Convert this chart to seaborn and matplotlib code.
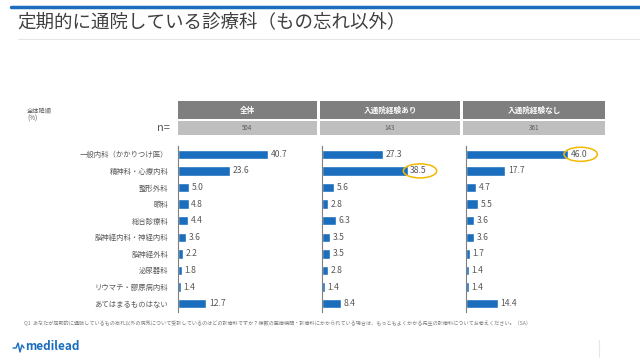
import pandas as pd
import seaborn as sns
import matplotlib.pyplot as plt
from matplotlib.patches import Rectangle, Ellipse
from matplotlib.lines import Line2D

# --- dati ---
CATEGORIES = ["一般内科（かかりつけ医）", "精神科・心療内科", "整形外科", "眼科", "総合診療科",
              "脳神経内科・神経内科", "脳神経外科", "泌尿器科", "リウマチ・膠原病内科", "あてはまるものはない"]
GROUPS = ["全体", "入通院経験あり", "入通院経験なし"]
N_VALUES = [504, 143, 361]
VAL_ALL = [40.7, 23.6, 5.0, 4.8, 4.4, 3.6, 2.2, 1.8, 1.4, 12.7]
VAL_YES = [27.3, 38.5, 5.6, 2.8, 6.3, 3.5, 3.5, 2.8, 1.4, 8.4]
VAL_NO = [46.0, 17.7, 4.7, 5.5, 3.6, 3.6, 1.7, 1.4, 1.4, 14.4]
HIGHLIGHT = {1: 1, 2: 0}  # pannello -> riga cerchiata

BLUE = "#1a6ebd"
GRAY_TXT = "#595959"

sns.set_style("white")
plt.rcParams['font.family'] = ['Noto Sans CJK JP', 'DejaVu Sans']

fig = plt.figure(figsize=(6.4, 3.6), dpi=100)
W, H = 640, 360

def fx(px): return px / W
def fy(py): return 1 - py / H

# barra blu in alto + titolo
fig.add_artist(Line2D([fx(11), fx(640)], [fy(7), fy(7)], color=BLUE, lw=2.5))
fig.text(fx(17), fy(22), "定期的に通院している診療科（もの忘れ以外）", fontsize=13.3,
         color="#404040", va="center", ha="left")
fig.add_artist(Line2D([fx(18), fx(640)], [fy(39), fy(39)], color="#e6e6e6", lw=0.8))

fig.text(fx(27), fy(110), "全体降順", fontsize=4.5, color=GRAY_TXT, va="center")
fig.text(fx(27), fy(119), "(%)", fontsize=4.5, color=GRAY_TXT, va="center")
fig.text(fx(170), fy(128), "n=", fontsize=8, color=GRAY_TXT, va="center", ha="right")

panel_x = [178, 322, 466]
head_x = [178, 320, 463]
head_w = [139, 140, 142]

dfs = [VAL_ALL, VAL_YES, VAL_NO]
for i, (vals, g, n) in enumerate(zip(dfs, GROUPS, N_VALUES)):
    # intestazioni
    fig.add_artist(Rectangle((fx(head_x[i]), fy(119)), fx(head_w[i]), 18 / H,
                             transform=fig.transFigure, color="#7f7f7f", lw=0))
    fig.text(fx(head_x[i] + head_w[i] / 2), fy(110), g, fontsize=5.5, color="white",
             fontweight="bold", ha="center", va="center")
    fig.add_artist(Rectangle((fx(head_x[i]), fy(135)), fx(head_w[i]), 14 / H,
                             transform=fig.transFigure, color="#bfbfbf", lw=0))
    fig.text(fx(head_x[i] + head_w[i] / 2), fy(128), str(n), fontsize=4.5, color=GRAY_TXT,
             ha="center", va="center")

    ax = fig.add_axes([fx(panel_x[i]), fy(312), fx(140), (312 - 146) / H])
    df = pd.DataFrame({"cat": CATEGORIES, "val": vals})
    sns.barplot(data=df, x="val", y="cat", color=BLUE, width=0.56, ax=ax, saturation=1)
    ax.set_xlim(0, 63)
    ax.set_ylim(9.5, -0.5)
    ax.set_xlabel("")
    ax.set_ylabel("")
    ax.set_xticks([])
    for s in ["top", "right", "bottom"]:
        ax.spines[s].set_visible(False)
    ax.spines["left"].set_color("#7f7f7f")
    ax.spines["left"].set_linewidth(0.8)
    if i == 0:
        ax.tick_params(axis="y", length=0, pad=7, labelsize=5.3, labelcolor=GRAY_TXT)
    else:
        ax.set_yticks([])
    for j, v in enumerate(vals):
        ax.text(v + 1.2, j, f"{v:.1f}", fontsize=6.2, color=GRAY_TXT, va="center", ha="left")
    if i in HIGHLIGHT:
        r = HIGHLIGHT[i]
        ax.add_patch(Ellipse((vals[r] + 5.6, r), 15, 0.85, fill=False,
                             edgecolor="#f5b800", lw=1.1, clip_on=False))

# nota a piè di pagina
fig.text(fx(24), fy(323),
         "Q1  あなたが定期的に通院しているもの忘れ以外の病気について受診しているのはどの診療科ですか？複数の医療機関・診療科にかかられている場合は、もっともよくかかる先生の診療科についてお考えください。（SA）",
         fontsize=3.7, color="#7f7f7f", va="center", ha="left")

# logo
fig.add_artist(Line2D([fx(13), fx(16), fx(18), fx(20), fx(22), fx(24)],
                      [fy(348), fy(348), fy(343), fy(352), fy(345), fy(348)],
                      color=BLUE, lw=1))
fig.text(fx(25), fy(347), "medilead", fontsize=8.5, color=BLUE, fontweight="bold",
         va="center", ha="left")
fig.add_artist(Line2D([fx(599), fx(599)], [fy(340), fy(357)], color="#e6e6e6", lw=0.8))

fig.savefig("out.png", dpi=100)
